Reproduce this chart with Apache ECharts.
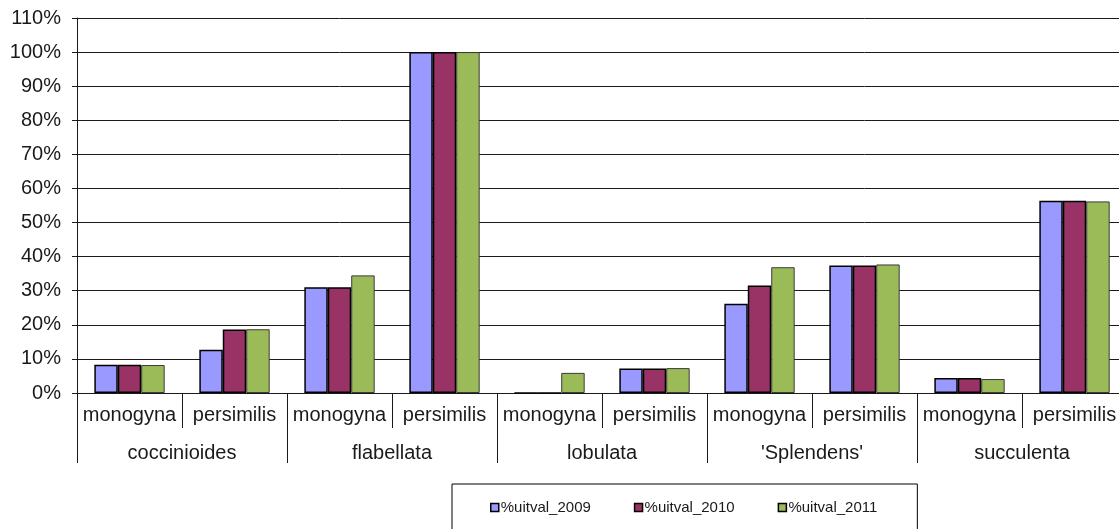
<!DOCTYPE html>
<html>
<head>
<meta charset="utf-8">
<title>%uitval per soort</title>
<script src="https://cdn.jsdelivr.net/npm/echarts@6/dist/echarts.min.js"></script>
<style>
  html, body { margin: 0; padding: 0; background: #fff; overflow: hidden; }
  /* canvas is slightly wider than the window: the plot runs off the right edge */
  #chart { width: 1127px; height: 529px; }
</style>
</head>
<body>
<div id="chart"></div>
<script>
// Sub-categories (inner axis row) and their parent groups (outer axis row)
const subCategories = ['monogyna', 'persimilis', 'monogyna', 'persimilis', 'monogyna',
                       'persimilis', 'monogyna', 'persimilis', 'monogyna', 'persimilis'];
const groups = ['coccinioides', 'flabellata', 'lobulata', "'Splendens'", 'succulenta'];

// Percentages per year, one value per sub-category
const uitval2009 = [8.3, 12.7, 31.0, 100, 0, 7.2, 26.2, 37.4, 4.4, 56.4];
const uitval2010 = [8.3, 18.6, 31.0, 100, 0, 7.2, 31.5, 37.4, 4.4, 56.4];
const uitval2011 = [8.2, 18.7, 34.5, 100, 5.9, 7.3, 36.9, 37.7, 4.1, 56.2];

const seriesNames = ['%uitval_2009', '%uitval_2010', '%uitval_2011'];

// Value axis ticks
const yMin = 0, yMax = 110, yStep = 10;

const FONT = "'Liberation Sans', Arial, sans-serif";
const INK = '#1a1a1a';

const chart = echarts.init(document.getElementById('chart'), null, { renderer: 'canvas' });

function barSeries(name, data, color, border, borderWidth) {
  return {
    name: name,
    type: 'bar',
    xAxisIndex: 0,
    data: data,
    barGap: '0%',
    barCategoryGap: '33%',
    itemStyle: { color: color, borderColor: border, borderWidth: borderWidth },
    emphasis: { disabled: true },
    animation: false
  };
}

chart.setOption({
  animation: false,
  backgroundColor: '#fff',
  textStyle: { fontFamily: FONT },
  grid: { left: 77, top: 18, right: 0, bottom: 136, containLabel: false },
  legend: {
    left: 452,
    top: 484,
    padding: [16, 40, 30, 38],
    borderColor: '#000',
    borderWidth: 1,
    itemGap: 43,
    itemWidth: 8,
    itemHeight: 8,
    icon: 'rect',
    itemStyle: { borderColor: '#000', borderWidth: 1.5 },
    textStyle: { fontFamily: FONT, fontSize: 15, color: INK, padding: [0, 0, 0, -3] },
    data: seriesNames
  },
  xAxis: [
    {
      type: 'category',
      position: 'bottom',
      data: subCategories,
      axisLine: { show: true, lineStyle: { color: INK, width: 1 } },
      axisTick: { show: true, interval: 0, length: 35, lineStyle: { color: INK, width: 1 } },
      axisLabel: { interval: 0, margin: 12, fontSize: 20, color: INK, fontFamily: FONT }
    },
    {
      type: 'category',
      position: 'bottom',
      data: groups,
      axisLine: { show: false },
      axisTick: { show: true, interval: 0, length: 70, lineStyle: { color: INK, width: 1 } },
      axisLabel: { interval: 0, margin: 50, fontSize: 20, color: INK, fontFamily: FONT }
    }
  ],
  yAxis: {
    type: 'value',
    min: yMin,
    max: yMax,
    interval: yStep,
    axisLine: { show: true, lineStyle: { color: INK, width: 1 } },
    axisTick: { show: true, inside: false, length: 5, lineStyle: { color: INK } },
    axisLabel: { formatter: '{value}%', margin: 16, fontSize: 20, color: INK, fontFamily: FONT },
    splitLine: { show: true, lineStyle: { color: INK, width: 1 } }
  },
  series: [
    barSeries(seriesNames[0], uitval2009, '#9999FF', '#000', 1.5),
    barSeries(seriesNames[1], uitval2010, '#993366', '#000', 1.5),
    barSeries(seriesNames[2], uitval2011, '#9BBB59', '#3a3a3a', 1)
  ]
});
</script>
</body>
</html>
